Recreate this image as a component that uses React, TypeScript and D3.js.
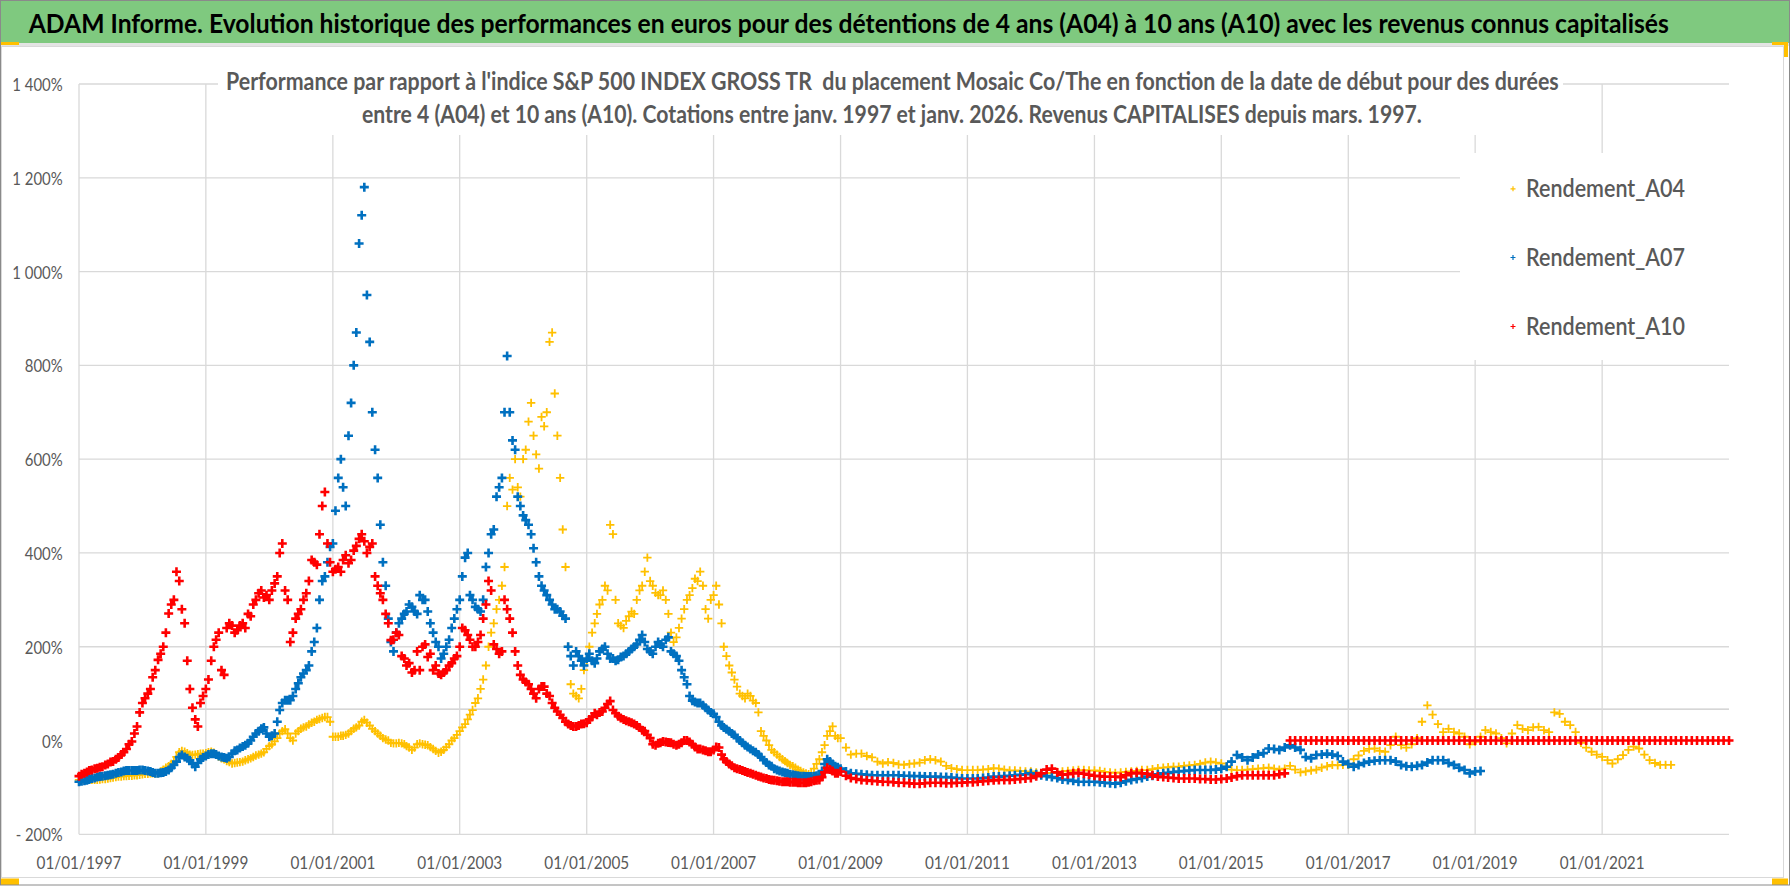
import React, { useLayoutEffect, useRef, useState } from "react";
import * as d3 from "d3";

// ---------- texts ----------
const titleText =
  "ADAM Informe. Evolution historique des performances en euros pour des détentions de 4 ans (A04) à 10 ans (A10) avec les revenus connus capitalisés";
const subtitleLine1 =
  "Performance par rapport à l'indice S&P 500 INDEX GROSS TR  du placement Mosaic Co/The en fonction de la date de début pour des durées";
const subtitleLine2 =
  "entre 4 (A04) et 10 ans (A10). Cotations entre janv. 1997 et janv. 2026. Revenus CAPITALISES depuis mars. 1997.";

// ---------- axes ----------
const yTickValues = [-200, 0, 200, 400, 600, 800, 1000, 1200, 1400];
const yTickLabels = ["- 200%", "0%", "200%", "400%", "600%", "800%", "1 000%", "1 200%", "1 400%"];
const xTickYears = [1997, 1999, 2001, 2003, 2005, 2007, 2009, 2011, 2013, 2015, 2017, 2019, 2021];
const xTickLabels = [
  "01/01/1997", "01/01/1999", "01/01/2001", "01/01/2003", "01/01/2005", "01/01/2007", "01/01/2009",
  "01/01/2011", "01/01/2013", "01/01/2015", "01/01/2017", "01/01/2019", "01/01/2021",
];
const xDomain = [new Date(1997, 0, 1), new Date(2023, 0, 1)];
const yDomain = [-200, 1400];
const crossLineValue = 67;

// ---------- series (values in %) ----------
const seriesNames = ["Rendement_A04", "Rendement_A07", "Rendement_A10"];
const seriesColors = ["#FFC000", "#0070C0", "#FF0000"];
const firstYear = 1997;

// readings on the 1st of each month, from Jan 1997
const rendementA04 = [
  -84, -84, -84, -84, -83, -82, -80, -78, -77, -76, -75, -74,
  -72, -71, -70, -70, -62, -55, -45, -25, -24, -30, -30, -28,
  -27, -24, -30, -38, -44, -49, -47, -45, -40, -35, -30, -25,
  -12, -2, 15, 24, 5, 15, 25, 30, 38, 44, 48, 50,
  8, 8, 10, 15, 25, 32, 44, 32, 20, 10, 2, -5,
  -6, -6, -12, -20, -8, -8, -10, -18, -26, -20, -8, 5,
  20, 35, 55, 80, 110, 160, 230, 280, 330, 500, 535, 540,
  600, 680, 650, 580, 670, 850, 740, 560, 370, 120, 95, 110,
  170, 230, 270, 300, 320, 440, 250, 240, 265, 270, 320, 360,
  340, 315, 310, 300, 230, 220, 260, 300, 325, 340, 330, 260,
  310, 290, 200, 160, 130, 100, 90, 95, 80, 20, 0, -20,
  -30, -40, -48, -55, -62, -68, -72, -60, -40, -10, 20, 10,
  5, -15, -30, -28, -28, -33, -36, -45, -49, -46, -48, -51,
  -52, -50, -49, -47, -42, -40, -42, -45, -54, -59, -61, -63,
  -63, -63, -63, -62, -61, -59, -60, -62, -64, -64, -65, -66,
  -66, -68, -70, -70, -69, -67, -66, -65, -64, -63, -63, -64,
  -64, -65, -67, -68, -69, -68, -67, -66, -65, -63, -63, -61,
  -59, -58, -57, -56, -56, -54, -53, -52, -50, -47, -45, -47,
  -49, -55, -62, -63, -63, -62, -61, -60, -59, -58, -60, -62,
  -60, -54, -62, -68, -66, -64, -62, -58, -55, -52, -53, -52,
  -52, -40, -32, -22, -18, -17, -22, -24, -10, 8, -10, -15,
  -8, 5, 40, 75, 55, 35, 18, 25, 18, 15, 8, -8,
  -3, 8, 22, 18, 15, 5, -6, 15, 33, 25, 22, 28,
  29, 22, 18, 60, 57, 40, 33, 18, -5, -15, -24, -30,
  -35, -42, -49, -40, -31, -20, -13, -17, -30, -42, -48, -52,
  -52, -52,
];
// readings in the middle of each month, Jan 1997 - Dec 2008 (volatile years)
const rendementA04Mid = [
  -84, -84, -84, -84, -82, -81, -79, -77, -76, -75, -74, -73,
  -71, -70, -70, -66, -58, -50, -35, -22, -27, -31, -29, -28,
  -25, -26, -34, -40, -46, -48, -46, -42, -38, -32, -28, -18,
  -8, 5, 20, 15, 0, 20, 28, 34, 40, 46, 50, 40,
  8, 10, 12, 20, 28, 40, 38, 25, 15, 5, 0, -6,
  -5, -8, -15, -15, -6, -9, -14, -22, -24, -14, 0, 12,
  28, 45, 65, 90, 130, 200, 250, 300, 370, 560, 600, 520,
  620, 720, 610, 690, 700, 870, 650, 450, 200, 100, 90, 150,
  200, 250, 290, 330, 460, 300, 245, 255, 275, 300, 330, 390,
  330, 310, 320, 270, 210, 240, 280, 310, 345, 360, 280, 300,
  330, 250, 180, 145, 115, 95, 100, 85, 60, 10, -10, -25,
  -35, -44, -52, -58, -65, -70, -70, -50, -25, 10, 30, 5,
];

const rendementA07 = [
  -88, -86, -83, -80, -77, -75, -73, -70, -67, -64, -64, -64,
  -63, -65, -68, -70, -68, -63, -52, -35, -35, -42, -56, -40,
  -33, -28, -30, -35, -38, -28, -20, -13, -6, 8, 20, 28,
  8, 15, 65, 86, 86, 110, 135, 150, 190, 240, 340, 380,
  420, 560, 540, 650, 800, 1060, 1180, 850, 620, 460, 330, 210,
  230, 260, 275, 285, 270, 300, 275, 230, 200, 185, 215, 260,
  300, 390, 310, 285, 275, 370, 440, 520, 560, 820, 640, 520,
  480, 460, 410, 350, 320, 300, 280, 275, 260, 180, 190, 170,
  175, 170, 175, 195, 185, 175, 172, 180, 190, 200, 215, 210,
  190, 200, 205, 215, 190, 180, 150, 120, 85, 80, 75, 65,
  57, 40, 28, 20, 12, 0, -10, -18, -25, -35, -47, -55,
  -63, -67, -70, -73, -75, -76, -77, -76, -73, -50, -45, -55,
  -60, -66, -70, -71, -72, -73, -74, -74, -74, -74, -74, -74,
  -75, -75, -76, -76, -77, -77, -77, -78, -78, -79, -80, -81,
  -81, -81, -81, -80, -79, -77, -77, -76, -75, -74, -73, -72,
  -70, -72, -74, -76, -78, -80, -83, -84, -86, -88, -88, -88,
  -88, -89, -90, -91, -92, -90, -87, -84, -82, -80, -77, -75,
  -72, -70, -69, -67, -66, -65, -64, -63, -63, -63, -63, -62,
  -60, -56, -45, -31, -36, -42, -36, -30, -27, -17, -18, -20,
  -15, -10, -15, -20, -35, -38, -31, -30, -28, -30, -33, -45,
  -50, -56, -52, -48, -45, -43, -42, -42, -42, -45, -52, -55,
  -56, -54, -52, -47, -42, -42, -42, -48, -52, -58, -63, -70,
  -66, -65,
];
const rendementA07Mid = [
  -87, -85, -81, -78, -76, -74, -72, -68, -65, -64, -64, -63,
  -64, -66, -70, -69, -66, -58, -45, -31, -38, -50, -48, -36,
  -30, -28, -33, -36, -35, -22, -16, -10, 0, 15, 25, 15,
  10, 40, 80, 86, 95, 122, 143, 160, 210, 300, 350, 413,
  490, 600, 500, 720, 870, 1120, 950, 700, 560, 380, 260, 190,
  250, 270, 290, 275, 310, 300, 250, 210, 175, 200, 240, 280,
  350, 400, 300, 280, 300, 400, 450, 540, 700, 700, 620, 500,
  470, 440, 380, 330, 310, 290, 280, 266, 200, 160, 180, 160,
  185, 165, 190, 200, 175, 170, 178, 185, 195, 205, 225, 195,
  185, 210, 200, 220, 185, 170, 135, 95, 82, 80, 70, 60,
  50, 32, 24, 15, 5, -5, -14, -22, -30, -42, -52, -60,
  -65, -69, -72, -74, -76, -77, -77, -75, -65, -40, -50, -57,
];

const rendementA10 = [
  -76, -70, -64, -60, -57, -52, -46, -40, -30, -18, -2, 30,
  80, 100, 135, 172, 200, 271, 300, 340, 250, 110, 45, 80,
  110, 170, 215, 150, 240, 245, 235, 250, 270, 290, 314, 305,
  300, 335, 400, 320, 210, 260, 280, 314, 385, 375, 500, 420,
  360, 370, 385, 378, 405, 430, 425, 413, 350, 314, 270, 214,
  230, 180, 160, 145, 190, 200, 178, 150, 143, 145, 160, 175,
  200, 235, 215, 200, 225, 290, 320, 195, 190, 280, 230, 160,
  130, 120, 100, 110, 115, 95, 70, 55, 40, 32, 30, 35,
  38, 50, 55, 62, 78, 65, 52, 45, 40, 35, 28, 20,
  5, -10, -5, -3, -5, -10, -5, 0, -8, -18, -20, -24,
  -20, -15, -40, -50, -58, -62, -66, -70, -74, -78, -81, -84,
  -86, -88, -88, -89, -90, -90, -89, -86, -84, -68, -62, -70,
  -66, -75, -80, -82, -84, -85, -86, -87, -88, -88, -89, -90,
  -90, -91, -92, -92, -91, -90, -90, -90, -91, -91, -90, -90,
  -89, -89, -88, -87, -86, -85, -84, -84, -84, -83, -82, -81,
  -80, -76, -70, -62, -60, -68, -73, -72, -70, -69, -71, -73,
  -75, -76, -77, -77, -77, -78, -74, -70, -69, -70, -71, -74,
  -77, -78, -79, -80, -81, -81, -81, -81, -82, -82, -83, -83,
  -82, -81, -79, -76, -74, -74, -74, -74, -74, -74, -74, -72,
  -70, 0, 0, 0, 0, 0, 0, 0, 0, 0, 0, 0,
  0, 0, 0, 0, 0, 0, 0, 0, 0, 0, 0, 0,
  0, 0, 0, 0, 0, 0, 0, 0, 0, 0, 0, 0,
  0, 0, 0, 0, 0, 0, 0, 0, 0, 0, 0, 0,
  0, 0, 0, 0, 0, 0, 0, 0, 0, 0, 0, 0,
  0, 0, 0, 0, 0, 0, 0, 0, 0, 0, 0, 0,
  0, 0, 0, 0, 0, 0, 0, 0, 0, 0, 0, 0,
  0,
];
const rendementA10Mid = [
  -72, -67, -63, -59, -56, -50, -45, -36, -25, -8, 15, 60,
  90, 110, 150, 185, 230, 290, 360, 280, 170, 70, 30, 95,
  130, 200, 230, 140, 250, 230, 245, 240, 265, 300, 320, 310,
  320, 350, 420, 300, 230, 270, 300, 340, 380, 440, 530, 380,
  365, 360, 395, 385, 415, 440, 400, 420, 330, 300, 250, 215,
  225, 175, 165, 150, 150, 205, 185, 160, 140, 150, 165, 180,
  240, 225, 200, 210, 260, 340, 205, 185, 300, 260, 190, 140,
  125, 110, 90, 115, 100, 80, 62, 48, 35, 30, 32, 36,
  45, 58, 60, 70, 84, 58, 48, 42, 38, 32, 22, 12,
  -8, -6, -2, -4, -8, -8, 0, -3, -14, -18, -22, -24,
  -14, -30, -45, -54, -60, -64, -68, -72, -76, -80, -83, -85,
  -87, -88, -89, -89, -90, -90, -88, -85, -78, -58, -65, -70,
];

const seriesValues = [rendementA04, rendementA07, rendementA10];
const seriesMidValues = [rendementA04Mid, rendementA07Mid, rendementA10Mid];

// ---------- layout ----------
const W = 1790;
const H = 886;
const plot = { left: 79, right: 1729, top: 84, bottom: 834.3 };
const FONT = "Lato, Carlito, 'Open Sans', sans-serif";
const TEXT_GREY = "#595959";
const GRID = "#d9d9d9";

// approximate Calibri advance widths (em) to size the narrow labels
const calibriAdv: Record<string, number> = { "0": 0.507, "1": 0.507, "2": 0.507, "3": 0.507, "4": 0.507, "5": 0.507, "6": 0.507, "7": 0.507, "8": 0.507, "9": 0.507, "%": 0.715, " ": 0.226, "-": 0.306, "/": 0.386 };
const labelWidth = (s: string, size: number) =>
  s.split("").reduce((a, c) => a + (calibriAdv[c] ?? 0.5), 0) * size;

const markerStyle = [
  { half: 4.2, sw: 1.8 },
  { half: 4.5, sw: 2.6 },
  { half: 4.5, sw: 2.6 },
];

type FitProps = {
  x: number;
  y: number;
  width: number;
  anchor?: "start" | "middle" | "end";
  fontSize: number;
  fontWeight?: number;
  fill: string;
  text: string;
};

// text horizontally scaled to the width measured on the reference (narrow Calibri look)
function FitText({ x, y, width, anchor = "start", fontSize, fontWeight = 400, fill, text }: FitProps) {
  const ref = useRef<SVGTextElement>(null);
  const [k, setK] = useState(1);
  useLayoutEffect(() => {
    const el = ref.current;
    if (!el) return;
    const n = el.getComputedTextLength();
    if (n > 0) setK(width / n);
  }, [width, text, fontSize]);
  return (
    <text
      ref={ref}
      x={0}
      y={0}
      transform={`translate(${x},${y}) scale(${k},1)`}
      textAnchor={anchor}
      fontSize={fontSize}
      fontWeight={fontWeight}
      fill={fill}
      style={{ whiteSpace: "pre" }}
    >
      {text}
    </text>
  );
}

export default function App() {
  const x = d3.scaleTime().domain(xDomain).range([plot.left, plot.right]);
  const y = d3.scaleLinear().domain(yDomain).range([plot.bottom, plot.top]);

  const paths = seriesValues.map((vals, si) => {
    const { half } = markerStyle[si];
    const p = d3.path();
    const cross = (cx: number, cy: number) => {
      p.moveTo(cx - half, cy);
      p.lineTo(cx + half, cy);
      p.moveTo(cx, cy - half);
      p.lineTo(cx, cy + half);
    };
    vals.forEach((v, m) => cross(x(new Date(firstYear, m, 1)), y(v)));
    seriesMidValues[si].forEach((v, m) => cross(x(new Date(firstYear, m, 16)), y(v)));
    return p.toString();
  });

  const legendY = [197.3, 266, 335];

  return (
    <svg
      width={W}
      height={H}
      viewBox={`0 0 ${W} ${H}`}
      style={{ position: "absolute", left: 0, top: 0, background: "#fff" }}
      fontFamily={FONT}
    >
      <rect x={0} y={0} width={W} height={H} fill="#ffffff" />
      {/* title bar */}
      <rect x={1} y={1} width={W - 2} height={42} fill="#7FC97F" />
      <rect x={1} y={43} width={W - 2} height={3} fill="#e4e4e4" />
      <FitText x={28.7} y={33.3} width={1641} fontSize={27} fontWeight={700} fill="#000" text={titleText} />

      {/* chart area border */}
      <rect x={1.5} y={46.5} width={1782} height={831} fill="#fff" stroke={GRID} strokeWidth={1} />

      {/* horizontal gridlines */}
      {yTickValues
        .filter((v) => v !== 0)
        .map((v) => (
          <line key={"h" + v} x1={plot.left} x2={plot.right} y1={y(v)} y2={y(v)} stroke={GRID} strokeWidth={1.3} />
        ))}
      <line x1={plot.left} x2={plot.right} y1={y(crossLineValue)} y2={y(crossLineValue)} stroke="#c9c9c9" strokeWidth={1.3} />
      {/* vertical gridlines */}
      {xTickYears.map((yr) => {
        const xx = x(new Date(yr, 0, 1));
        return <line key={"v" + yr} x1={xx} x2={xx} y1={plot.top} y2={plot.bottom} stroke={GRID} strokeWidth={1.3} />;
      })}

      {/* subtitle box */}
      <rect x={218} y={60} width={1563 - 218} height={135 - 60} fill="#fff" />
      <FitText x={226} y={90} width={1333} fontSize={24} fontWeight={700} fill={TEXT_GREY} text={subtitleLine1} />
      <FitText x={362} y={123.3} width={1060} fontSize={24} fontWeight={700} fill={TEXT_GREY} text={subtitleLine2} />

      {/* legend box */}
      <rect x={1460} y={153} width={1732 - 1460} height={360 - 153} fill="#fff" />
      {seriesNames.map((name, i) => (
        <g key={name}>
          <path
            d={`M${1510.5},${legendY[i] - 8.5}h5M${1513},${legendY[i] - 11}v5`}
            stroke={seriesColors[i]}
            strokeWidth={1.2}
          />
          <FitText x={1526} y={legendY[i]} width={159} fontSize={24} fontWeight={600} fill={TEXT_GREY} text={name} />
        </g>
      ))}

      {/* data */}
      {paths.map((d, i) => (
        <path key={seriesNames[i]} d={d} fill="none" stroke={seriesColors[i]} strokeWidth={markerStyle[i].sw} />
      ))}

      {/* y tick labels */}
      {yTickValues.map((v, i) => (
        <FitText
          key={"yl" + v}
          x={62.7}
          y={y(v) + 7}
          width={labelWidth(yTickLabels[i], 17)}
          anchor="end"
          fontSize={18}
          fill={TEXT_GREY}
          text={yTickLabels[i]}
        />
      ))}
      {/* x tick labels */}
      {xTickYears.map((yr, i) => (
        <FitText
          key={"xl" + yr}
          x={x(new Date(yr, 0, 1))}
          y={869.3}
          width={labelWidth(xTickLabels[i], 17.6)}
          anchor="middle"
          fontSize={18}
          fill={TEXT_GREY}
          text={xTickLabels[i]}
        />
      ))}

      {/* excel selection handles */}
      <rect x={0} y={42} width={19} height={3} fill="#FFC000" />
      <rect x={1772} y={42} width={16} height={3} fill="#FFC000" />
      <rect x={1784} y={42} width={4} height={15} fill="#FFC000" />
      <rect x={0} y={878.5} width={19} height={6.5} fill="#FFC000" />
      <rect x={1772} y={878.5} width={16} height={6.5} fill="#FFC000" />

      {/* outer frame */}
      <rect x={0.5} y={0.5} width={W - 1} height={H - 1.5} fill="none" stroke="#8a8a8a" strokeWidth={1} />
    </svg>
  );
}
